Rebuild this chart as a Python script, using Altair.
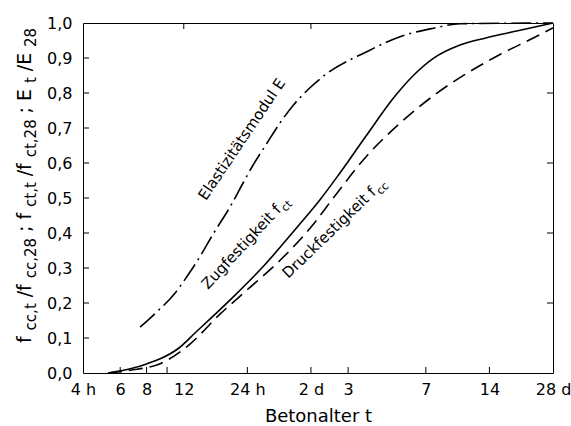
import altair as alt
import pandas as pd

# Concrete age in hours (4 h ... 28 d) and relative property development
hours_ct = [5.25, 6.7, 8.0, 9.4, 11.3, 13.6, 19.9, 28.6, 41.1, 53.0, 64.7, 88.2,
            117.8, 146.6, 182.3, 243.8, 326, 452, 672]
zug_ct = [0.0, 0.012, 0.026, 0.042, 0.07, 0.115, 0.209, 0.305, 0.415, 0.495, 0.565,
          0.68, 0.785, 0.85, 0.899, 0.937, 0.958, 0.977, 1.0]

hours_cc = [5.25, 6.7, 9.4, 12.8, 17.8, 23.8, 34.3, 49.3, 63.6, 88.2, 126.8, 182.3,
            262.4, 377, 542, 672]
druck_cc = [0.0, 0.008, 0.028, 0.082, 0.168, 0.236, 0.322, 0.425, 0.513, 0.62, 0.714,
            0.792, 0.856, 0.91, 0.957, 0.986]

hours_e = [7.45, 8.96, 10.9, 12.4, 14.3, 16.6, 19.9, 23.0, 25.6, 29.6, 34.3, 39.6,
           47.5, 57.0, 88.2, 126.8, 182.3, 243.8, 672]
emodul_e = [0.131, 0.175, 0.228, 0.275, 0.332, 0.399, 0.475, 0.545, 0.595, 0.655,
            0.715, 0.765, 0.815, 0.855, 0.918, 0.961, 0.985, 0.998, 1.0]

# Axis ticks
x_tick_values = [4, 6, 8, 12, 24, 48, 72, 168, 336, 672]
x_tick_labels = ["4 h", "6", "8", "12", "24 h", "2 d", "3", "7", "14", "28 d"]
y_tick_values = [0.0, 0.1, 0.2, 0.3, 0.4, 0.5, 0.6, 0.7, 0.8, 0.9, 1.0]

bottom_marks = [6, 8, 10, 24, 48, 72, 168, 336]
top_marks = [12, 48]
left_marks = [0.1, 0.2, 0.3, 0.4, 0.5, 0.6, 0.7, 0.8, 0.9]
right_marks = [0.2, 0.4, 0.6, 0.8]

# Curve annotations (anchor = baseline centre of the main text)
label_texts = ["Elastizitätsmodul E", "Zugfestigkeit f", "Druckfestigkeit f"]
label_subs = ["", "ct", "cc"]
label_hours = [23.6, 23.4, 60.8]
label_values = [0.66, 0.351, 0.391]

# Y axis title, written piece by piece for the subscripts
y_title_parts = ["f", "cc,t", "/f", "cc,28", "; f", "ct,t", "/f", "ct,28",
                 "; E", "t", "/E", "28"]

FONT = "DejaVu Sans"
W, H = 470, 350

label_expr = "".join(
    f"datum.value == {v} ? '{l}' : " for v, l in zip(x_tick_values, x_tick_labels)
) + "''"

x_enc = alt.X(
    "t:Q",
    scale=alt.Scale(type="log", domain=[4, 672], nice=False),
    axis=alt.Axis(
        values=x_tick_values, labelExpr=label_expr, ticks=False, tickSize=0,
        domain=False, grid=False, labelPadding=8, labelFontSize=16,
        labelFont=FONT, labelColor="black", labelFlush=False, labelOverlap=False,
        title="Betonalter t", titleFont=FONT, titleFontSize=18,
        titleFontWeight="normal", titleColor="black",
        titleBaseline="alphabetic", titleY=48, titlePadding=0,
    ),
)
y_enc = alt.Y(
    "v:Q",
    scale=alt.Scale(domain=[0, 1], nice=False, zero=False),
    axis=alt.Axis(
        values=y_tick_values,
        labelExpr="replace(format(datum.value, '.1f'), '.', ',')",
        ticks=False, tickSize=0, domain=False, grid=False, labelPadding=11,
        labelFontSize=16, labelFont=FONT, labelColor="black", labelFlush=False,
        title=None,
    ),
)


def curve(hours, values, dash):
    df = pd.DataFrame({"t": hours, "v": values})
    kw = dict(color="black", strokeWidth=1.6, interpolate="monotone")
    if dash:
        kw["strokeDash"] = dash
    return alt.Chart(df).mark_line(**kw).encode(x=x_enc, y=y_enc)


lines = [
    curve(hours_ct, zug_ct, None),
    curve(hours_cc, druck_cc, [14, 7]),
    curve(hours_e, emodul_e, [20, 5, 2, 5]),
]

# Inward tick marks on all four sides of the frame
tick_style = dict(color="black", strokeWidth=1)
ticks = [
    alt.Chart(pd.DataFrame({"v": left_marks})).mark_rule(**tick_style).encode(
        y=y_enc, x=alt.value(0), x2=alt.value(6)),
    alt.Chart(pd.DataFrame({"v": right_marks})).mark_rule(**tick_style).encode(
        y=y_enc, x=alt.value(W - 6), x2=alt.value(W)),
    alt.Chart(pd.DataFrame({"t": bottom_marks})).mark_rule(**tick_style).encode(
        x=x_enc, y=alt.value(H - 6), y2=alt.value(H)),
    alt.Chart(pd.DataFrame({"t": top_marks})).mark_rule(**tick_style).encode(
        x=x_enc, y=alt.value(0), y2=alt.value(6)),
]

# Rotated curve labels with their subscripts
label_angles = [304, 313, 316]
main_widths = [142.8, 109.2, 124.0]  # approx. text lengths at 15 px
labels = []
for txt, sub, h, v, ang, w in zip(label_texts, label_subs, label_hours,
                                  label_values, label_angles, main_widths):
    df = pd.DataFrame({"t": [h], "v": [v]})
    labels.append(
        alt.Chart(df).mark_text(
            text=txt, angle=ang, align="center", baseline="alphabetic",
            font=FONT, fontSize=15, color="black",
        ).encode(x=x_enc, y=y_enc)
    )
    if sub:
        labels.append(
            alt.Chart(df).mark_text(
                text=sub, angle=ang, align="left", baseline="alphabetic",
                font=FONT, fontSize=11, color="black", dx=w / 2 + 1, dy=4,
            ).encode(x=x_enc, y=y_enc)
        )

# Y title pieces, reading bottom to top
piece_centres = [316.6, 293.8, 267.8, 235.1, 199.5, 171.6, 146.8, 115.3,
                 78.2, 57.1, 39.0, 14.4]
title_pieces = []
for i, (part, yc) in enumerate(zip(y_title_parts, piece_centres)):
    is_sub = i % 2 == 1
    title_pieces.append(
        alt.Chart(pd.DataFrame({"k": [0]})).mark_text(
            text=part, angle=270, align="center", baseline="alphabetic",
            font=FONT, fontSize=15 if is_sub else 19, color="black",
        ).encode(x=alt.value(-47 if is_sub else -52.5), y=alt.value(yc))
    )

chart = alt.layer(*lines, *ticks, *labels, *title_pieces).properties(
    width=W, height=H,
    autosize=alt.AutoSizeParams(type="none"),
    padding={"left": 83, "top": 23, "right": 18, "bottom": 53},
    background="white",
).configure_view(stroke="black", strokeWidth=1)

chart.save("out.html", embed_options={"renderer": "svg", "actions": False})
